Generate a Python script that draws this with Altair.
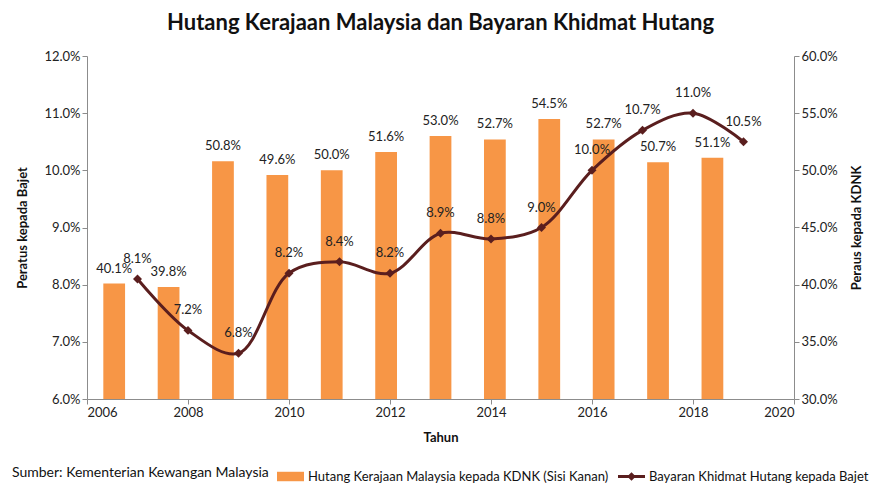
import altair as alt
import pandas as pd

years = [2007, 2008, 2009, 2010, 2011, 2012, 2013, 2014, 2015, 2016, 2017, 2018, 2019]
kdnk_years = [2007, 2008, 2009, 2010, 2011, 2012, 2013, 2014, 2015, 2016, 2017, 2018]
kdnk = [40.1, 39.8, 50.8, 49.6, 50.0, 51.6, 53.0, 52.7, 54.5, 52.7, 50.7, 51.1]
bajet = [8.1, 7.2, 6.8, 8.2, 8.4, 8.2, 8.9, 8.8, 9.0, 10.0, 10.7, 11.0, 10.5]
left_ticks = [6.0, 7.0, 8.0, 9.0, 10.0, 11.0, 12.0]
right_ticks = [30.0, 35.0, 40.0, 45.0, 50.0, 55.0, 60.0]
x_ticks = [2006, 2008, 2010, 2012, 2014, 2016, 2018, 2020]

bar_label = "Hutang Kerajaan Malaysia kepada KDNK (Sisi Kanan)"
line_label = "Bayaran Khidmat Hutang kepada Bajet"

ORANGE = "#F79646"
MAROON = "#5A1E1E"
FONT = "Lato"

df_bar = pd.DataFrame({"Tahun": kdnk_years, "KDNK": [v / 100 for v in kdnk], "series": bar_label})
df_line = pd.DataFrame({"Tahun": years, "Bajet": [v / 100 for v in bajet], "series": line_label})

bx = alt.X("Tahun:O", scale=alt.Scale(domain=years, paddingInner=0.6, paddingOuter=0.3), axis=None)
by = alt.Y(
    "KDNK:Q",
    scale=alt.Scale(domain=[0.30, 0.60], zero=False, nice=False),
    axis=alt.Axis(orient="right", format=".1%", values=[v / 100 for v in right_ticks],
                  title="Peraus kepada KDNK", titleAngle=270, titlePadding=26),
)

bars = alt.Chart(df_bar).mark_bar(color=ORANGE).encode(
    x=bx,
    y=by,
    y2=alt.datum(0.30),
    color=alt.Color(
        "series:N",
        scale=alt.Scale(domain=[bar_label], range=[ORANGE]),
        legend=alt.Legend(
            orient="none", legendX=-75, legendY=407, direction="horizontal",
            title="Sumber: Kementerian Kewangan Malaysia", titleOrient="left",
            titleFontWeight="normal", titleFontSize=14, titleFont=FONT, titleColor="#111",
            titleBaseline="middle", titlePadding=8, titleLimit=600,
            labelFontSize=13, labelFont=FONT, labelColor="#111", labelOffset=4, labelLimit=600,
            symbolType="M-1,-0.35H1V0.35H-1Z", symbolSize=729, symbolStrokeWidth=0,
            symbolOpacity=1,
        ),
    ),
)
bar_text = alt.Chart(df_bar).mark_text(dy=-15, fontSize=13, font=FONT, color="#222").encode(
    x=bx, y=by, text=alt.Text("KDNK:Q", format=".1%")
)

lx = alt.X(
    "Tahun:Q",
    scale=alt.Scale(domain=[2006, 2020], zero=False, nice=False),
    axis=alt.Axis(values=x_ticks, format="d", title="Tahun", titlePadding=12),
)
ly = alt.Y(
    "Bajet:Q",
    scale=alt.Scale(domain=[0.06, 0.12], zero=False, nice=False),
    axis=alt.Axis(orient="left", format=".1%", values=[v / 100 for v in left_ticks],
                  title="Peratus kepada Bajet", titlePadding=14),
)

line = alt.Chart(df_line).mark_line(interpolate="catmull-rom", color=MAROON, strokeWidth=3).encode(
    x=lx, y=ly
)
pts = alt.Chart(df_line).mark_point(shape="diamond", filled=True, size=80, opacity=1).encode(
    x=lx,
    y=ly,
    color=alt.Color(
        "series:N",
        scale=alt.Scale(domain=[line_label], range=[MAROON]),
        legend=alt.Legend(
            orient="none", legendX=531, legendY=407, direction="horizontal", title=None,
            labelFontSize=13, labelFont=FONT, labelColor="#111", labelOffset=4, labelLimit=600,
            symbolType="M-1,-0.11H1V0.11H-1Z M-0.32,0L0,-0.32L0.32,0L0,0.32Z",
            symbolSize=729, symbolStrokeWidth=0, symbolOpacity=1,
        ),
    ),
)
line_text = alt.Chart(df_line).mark_text(dy=-20, fontSize=13, font=FONT, color="#222").encode(
    x=lx, y=ly, text=alt.Text("Bajet:Q", format=".1%")
)

chart = (
    alt.layer(alt.layer(bars, bar_text), alt.layer(line, pts, line_text))
    .resolve_scale(x="independent", y="independent", color="independent")
    .properties(
        width=707,
        height=343,
        autosize=alt.AutoSizeParams(type="none"),
        padding={"left": 79, "top": 48, "right": 84, "bottom": 85},
        title=alt.Title(
            "Hutang Kerajaan Malaysia dan Bayaran Khidmat Hutang",
            font=FONT, fontSize=22, fontWeight="bold", color="#111", anchor="middle", offset=15,
        ),
    )
    .configure_view(stroke=None)
    .configure_axis(
        grid=False, domainColor="#8C8C8C", tickColor="#8C8C8C", tickSize=5,
        labelFont=FONT, labelFontSize=13, labelColor="#222",
        titleFont=FONT, titleFontSize=13, titleFontWeight="bold", titleColor="#111",
    )
)

chart.save("out.html", embed_options={"renderer": "svg", "actions": False})
